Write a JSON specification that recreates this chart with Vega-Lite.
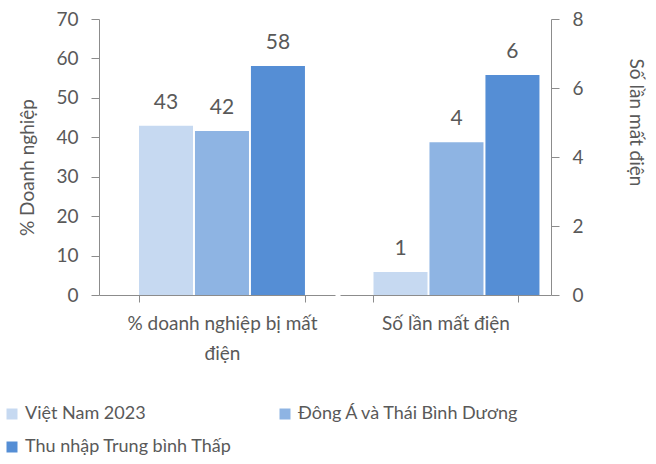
{
  "$schema": "https://vega.github.io/schema/vega-lite/v6.json",
  "padding": {"left": 3, "top": 10, "right": 5, "bottom": 5},
  "config": {
    "font": "Lato",
    "view": {"stroke": null},
    "axis": {
      "grid": false,
      "domainColor": "#8C8C8C",
      "tickColor": "#8C8C8C",
      "labelColor": "#595959",
      "titleColor": "#595959",
      "labelFont": "Lato",
      "titleFont": "Lato",
      "labelFontSize": 19,
      "titleFontSize": 19,
      "titleFontWeight": "normal",
      "labelLimit": 400,
      "tickSize": 8
    },
    "legend": {
      "labelFont": "Lato",
      "labelFontSize": 18,
      "labelColor": "#595959",
      "labelLimit": 400
    }
  },
  "data": {
    "values": [
      {"nhom": "% doanh nghiệp bị mất điện", "chuoi": "Việt Nam 2023", "giatri": 42.9},
      {"nhom": "% doanh nghiệp bị mất điện", "chuoi": "Đông Á và Thái Bình Dương", "giatri": 41.6},
      {"nhom": "% doanh nghiệp bị mất điện", "chuoi": "Thu nhập Trung bình Thấp", "giatri": 58.1},
      {"nhom": "Số lần mất điện", "chuoi": "Việt Nam 2023", "giatri": 0.67},
      {"nhom": "Số lần mất điện", "chuoi": "Đông Á và Thái Bình Dương", "giatri": 4.43},
      {"nhom": "Số lần mất điện", "chuoi": "Thu nhập Trung bình Thấp", "giatri": 6.38}
    ]
  },
  "spacing": 5,
  "resolve": {"scale": {"color": "shared"}},
  "hconcat": [
    {
      "width": 236,
      "height": 276,
      "transform": [{"filter": "datum.nhom == '% doanh nghiệp bị mất điện'"}],
      "encoding": {
        "x": {
          "field": "nhom",
          "type": "nominal",
          "scale": {"paddingInner": 0, "paddingOuter": 0.211, "align": 0.571},
          "axis": {
            "title": null,
            "labelAngle": 0,
            "tickBand": "extent",
            "tickSize": 7,
            "labelPadding": 12,
            "labelLineHeight": 30,
            "labelBaseline": "top",
            "labelExpr": "datum.label == '% doanh nghiệp bị mất điện' ? ['% doanh nghiệp bị mất', 'điện'] : datum.label"
          }
        },
        "xOffset": {
          "field": "chuoi",
          "type": "nominal",
          "sort": ["Việt Nam 2023", "Đông Á và Thái Bình Dương", "Thu nhập Trung bình Thấp"],
          "scale": {"paddingInner": 0.035, "paddingOuter": 0}
        },
        "y": {
          "field": "giatri",
          "type": "quantitative",
          "scale": {"domain": [0, 70]},
          "axis": {
            "values": [0, 10, 20, 30, 40, 50, 60, 70],
            "title": "% Doanh nghiệp",
            "labelPadding": 13,
            "titlePadding": 18,
            "titleY": 148
          }
        }
      },
      "layer": [
        {
          "mark": {"type": "bar"},
          "encoding": {
            "color": {
              "field": "chuoi",
              "type": "nominal",
              "sort": ["Việt Nam 2023", "Đông Á và Thái Bình Dương", "Thu nhập Trung bình Thấp"],
              "scale": {
                "domain": ["Việt Nam 2023", "Đông Á và Thái Bình Dương", "Thu nhập Trung bình Thấp"],
                "range": ["#C6D9F1", "#8EB4E3", "#558ED5"]
              },
              "legend": {
                "title": null,
                "orient": "none",
                "direction": "horizontal",
                "legendX": -96,
                "legendY": 386,
                "columns": 2,
                "columnPadding": 44,
                "rowPadding": 15,
                "symbolType": "square",
                "symbolSize": 121,
                "symbolStrokeWidth": 0,
                "labelOffset": 4
              }
            }
          }
        },
        {
          "mark": {"type": "text", "baseline": "bottom", "dy": -13, "fontSize": 21, "color": "#595959", "font": "Lato"},
          "encoding": {"text": {"field": "giatri", "type": "quantitative", "format": ".0f"}}
        }
      ]
    },
    {
      "width": 211,
      "height": 276,
      "transform": [{"filter": "datum.nhom == 'Số lần mất điện'"}],
      "encoding": {
        "x": {
          "field": "nhom",
          "type": "nominal",
          "scale": {"paddingInner": 0, "paddingOuter": 0.2326, "align": 0.5},
          "axis": {
            "title": null,
            "labelAngle": 0,
            "tickBand": "extent",
            "tickSize": 7,
            "labelPadding": 12,
            "labelBaseline": "top"
          }
        },
        "xOffset": {
          "field": "chuoi",
          "type": "nominal",
          "sort": ["Việt Nam 2023", "Đông Á và Thái Bình Dương", "Thu nhập Trung bình Thấp"],
          "scale": {"paddingInner": 0.03, "paddingOuter": 0}
        },
        "y": {
          "field": "giatri",
          "type": "quantitative",
          "scale": {"domain": [0, 8]},
          "axis": {
            "orient": "right",
            "values": [0, 2, 4, 6, 8],
            "title": "Số lần mất điện",
            "labelPadding": 13,
            "titlePadding": 42,
            "titleY": 103
          }
        }
      },
      "layer": [
        {
          "mark": {"type": "bar"},
          "encoding": {
            "color": {
              "field": "chuoi",
              "type": "nominal",
              "sort": ["Việt Nam 2023", "Đông Á và Thái Bình Dương", "Thu nhập Trung bình Thấp"],
              "scale": {
                "domain": ["Việt Nam 2023", "Đông Á và Thái Bình Dương", "Thu nhập Trung bình Thấp"],
                "range": ["#C6D9F1", "#8EB4E3", "#558ED5"]
              }
            }
          }
        },
        {
          "mark": {"type": "text", "baseline": "bottom", "dy": -13, "fontSize": 21, "color": "#595959", "font": "Lato"},
          "encoding": {"text": {"field": "giatri", "type": "quantitative", "format": ".0f"}}
        }
      ]
    }
  ]
}
